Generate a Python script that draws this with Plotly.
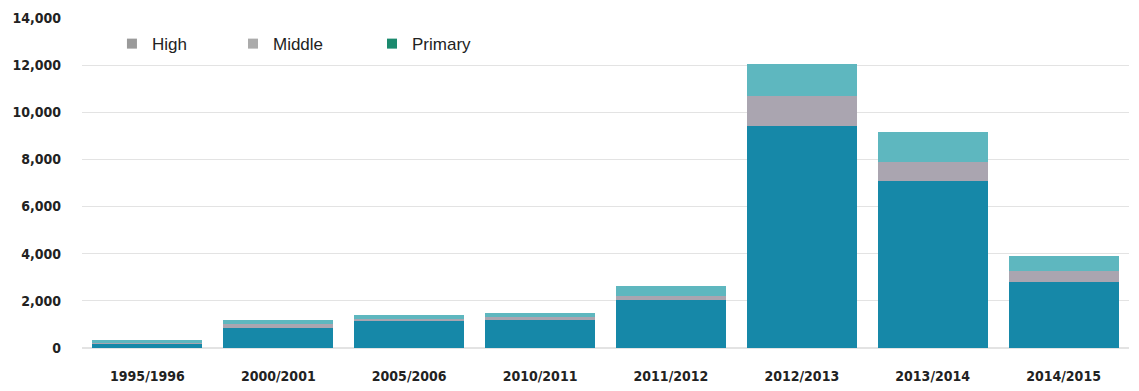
import plotly.graph_objects as go

years = ["1995/1996", "2000/2001", "2005/2006", "2010/2011", "2011/2012",
         "2012/2013", "2013/2014", "2014/2015"]
primary = [180, 860, 1150, 1220, 2030, 9400, 7100, 2780]
middle = [60, 150, 80, 80, 180, 1280, 770, 470]
high = [80, 190, 170, 200, 430, 1370, 1280, 665]

bar_colors = {"Primary": "#1688a8", "Middle": "#aaa5b0", "High": "#5eb7bf"}
legend_colors = {"High": "#9a9a9a", "Middle": "#ababab", "Primary": "#1b8a6e"}
legend_ids = {"High": "legend", "Middle": "legend2", "Primary": "legend3"}
legend_x = {"legend": 0.0286, "legend2": 0.1442, "legend3": 0.2770}

fig = go.Figure()
for name, vals in [("Primary", primary), ("Middle", middle), ("High", high)]:
    fig.add_trace(go.Bar(x=years, y=vals, name=name, marker_color=bar_colors[name],
                         marker_line_width=0, showlegend=False))

for name in ["High", "Middle", "Primary"]:
    fig.add_trace(go.Scatter(x=[None], y=[None], mode="markers", name=name,
                             legend=legend_ids[name],
                             marker=dict(symbol="square", size=10, color=legend_colors[name])))

legend_style = dict(orientation="h", y=0.921, xanchor="left", yanchor="middle",
                    bgcolor="rgba(0,0,0,0)", itemwidth=30,
                    font=dict(family="Liberation Sans, Arial, sans-serif", size=17, color="#222"))

tick_font = dict(family="DejaVu Sans Condensed, Arial Narrow, sans-serif", size=14,
                 weight="bold", color="#222")

fig.update_layout(
    width=1131, height=383,
    margin=dict(l=74, r=10, t=10, b=43, autoexpand=False),
    barmode="stack", bargap=0.16,
    plot_bgcolor="white", paper_bgcolor="white",
    font=dict(family="DejaVu Sans Condensed, sans-serif", size=14, color="#222"),
    legend=dict(x=legend_x["legend"], **legend_style),
    legend2=dict(x=legend_x["legend2"], **legend_style),
    legend3=dict(x=legend_x["legend3"], **legend_style),
    showlegend=True,
)
fig.update_xaxes(showgrid=False, showline=False, ticks="", tickfont=tick_font,
                 automargin=False, ticklabelstandoff=18)
fig.update_yaxes(range=[0, 14000], dtick=2000, tickformat=",", gridcolor="#e3e3e3", gridwidth=1,
                 zeroline=True, zerolinecolor="#e3e3e3", showline=False, ticks="",
                 automargin=False, ticklabelstandoff=20, tickfont=tick_font)

fig.write_html("out.html")
